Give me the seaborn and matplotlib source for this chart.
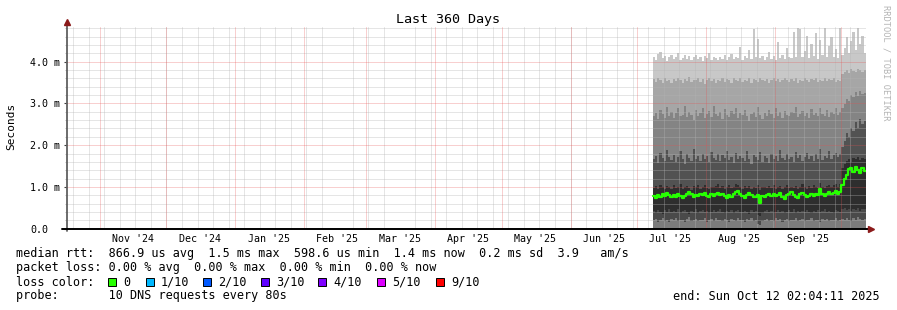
import numpy as np
import pandas as pd
import matplotlib
matplotlib.use("Agg")
import matplotlib.pyplot as plt
import matplotlib.dates as mdates
from matplotlib.ticker import FixedLocator, MultipleLocator
from matplotlib.patches import Rectangle
import seaborn as sns

# ---------------- data (values in milliseconds, one value per day from 2025-07-08) ----------------
start_day = "2025-07-08"
window_start = "2024-10-17 02:04:11"
window_end = "2025-10-12 02:04:11"

median_rtt = [
    0.78, 0.74, 0.80, 0.77, 0.84, 0.79, 0.86, 0.81, 0.75, 0.80,
    0.77, 0.83, 0.79, 0.74, 0.78, 0.84, 0.88, 0.82, 0.76, 0.81,
    0.78, 0.84, 0.80, 0.86, 0.79, 0.75, 0.82, 0.78, 0.84, 0.86,
    0.80, 0.83, 0.78, 0.74, 0.80, 0.76, 0.82, 0.88, 0.90, 0.84,
    0.79, 0.74, 0.81, 0.86, 0.80, 0.77, 0.76, 0.80, 0.62, 0.79,
    0.75, 0.80, 0.84, 0.79, 0.83, 0.78, 0.81, 0.86, 0.76, 0.72,
    0.80, 0.84, 0.88, 0.81, 0.77, 0.74, 0.82, 0.86, 0.80, 0.76,
    0.79, 0.83, 0.78, 0.84, 0.80, 0.95, 0.84, 0.79, 0.82, 0.87,
    0.82, 0.86, 0.90, 0.84, 0.88,
    1.05, 1.18, 1.28, 1.42, 1.46, 1.36, 1.48, 1.40, 1.34, 1.45, 1.38,
]

smoke_b1 = [
    0.20, 0.24, 0.17, 0.22, 0.26, 0.19, 0.21, 0.15, 0.23, 0.20,
    0.25, 0.18, 0.22, 0.20, 0.16, 0.23, 0.27, 0.19, 0.21, 0.24,
    0.18, 0.22, 0.20, 0.25, 0.17, 0.21, 0.23, 0.19, 0.26, 0.20,
    0.22, 0.18, 0.24, 0.20, 0.16, 0.23, 0.21, 0.19, 0.25, 0.22,
    0.20, 0.17, 0.23, 0.21, 0.26, 0.19, 0.22, 0.12, 0.10, 0.18,
    0.21, 0.24, 0.19, 0.22, 0.18, 0.25, 0.20, 0.23, 0.17, 0.21,
    0.24, 0.19, 0.22, 0.20, 0.26, 0.18, 0.21, 0.23, 0.19, 0.22,
    0.20, 0.25, 0.18, 0.22, 0.21, 0.17, 0.24, 0.20, 0.23, 0.19,
    0.22, 0.20, 0.25, 0.18, 0.21,
    0.24, 0.20, 0.26, 0.22, 0.19, 0.25, 0.21, 0.27, 0.23, 0.20, 0.24,
]

smoke_b2 = [
    0.42, 0.38, 0.45, 0.40, 0.36, 0.44, 0.41, 0.47, 0.39, 0.43,
    0.40, 0.46, 0.37, 0.42, 0.44, 0.39, 0.35, 0.43, 0.41, 0.46,
    0.38, 0.42, 0.45, 0.40, 0.43, 0.37, 0.41, 0.44, 0.39, 0.42,
    0.46, 0.40, 0.38, 0.43, 0.41, 0.45, 0.37, 0.42, 0.44, 0.40,
    0.39, 0.43, 0.41, 0.36, 0.44, 0.40, 0.42, 0.33, 0.30, 0.38,
    0.42, 0.45, 0.40, 0.43, 0.38, 0.41, 0.44, 0.39, 0.42, 0.37,
    0.41, 0.44, 0.40, 0.46, 0.38, 0.42, 0.39, 0.43, 0.41, 0.45,
    0.40, 0.37, 0.43, 0.41, 0.44, 0.39, 0.42, 0.46, 0.40, 0.43,
    0.41, 0.38, 0.44, 0.42, 0.40,
    0.46, 0.50, 0.44, 0.48, 0.42, 0.47, 0.45, 0.50, 0.43, 0.48, 0.46,
]

smoke_b3 = [
    0.98, 1.02, 0.95, 1.05, 0.99, 0.94, 1.03, 1.00, 0.96, 1.04,
    0.97, 1.01, 1.06, 0.95, 0.99, 1.03, 0.98, 0.93, 1.02, 1.00,
    1.04, 0.96, 1.00, 1.05, 0.97, 0.94, 1.01, 0.99, 1.03, 1.08,
    0.98, 1.02, 0.95, 1.00, 1.04, 0.97, 1.01, 1.06, 1.05, 0.99,
    0.96, 1.03, 0.98, 1.02, 0.95, 1.00, 0.97, 1.04, 0.92, 0.99,
    1.01, 0.97, 1.03, 0.98, 1.05, 0.96, 1.00, 1.02, 0.95, 0.99,
    1.04, 0.98, 1.01, 0.97, 1.03, 0.95, 1.00, 1.06, 0.99, 0.96,
    1.02, 0.98, 1.04, 1.00, 0.97, 1.10, 1.01, 0.98, 1.03, 1.05,
    0.99, 1.04, 1.07, 1.01, 1.06,
    1.45, 1.55, 1.62, 1.68, 1.60, 1.70, 1.66, 1.72, 1.64, 1.69, 1.67,
]

smoke_b4 = [
    1.66, 1.74, 1.58, 1.82, 1.69, 1.62, 1.88, 1.71, 1.64, 1.77,
    1.60, 1.72, 1.85, 1.67, 1.56, 1.79, 1.70, 1.63, 1.90, 1.68,
    1.75, 1.61, 1.80, 1.66, 1.73, 1.59, 1.84, 1.70, 1.65, 1.78,
    1.62, 1.76, 1.69, 1.87, 1.64, 1.71, 1.58, 1.81, 1.67, 1.74,
    1.70, 1.63, 1.86, 1.68, 1.55, 1.77, 1.72, 1.65, 1.83, 1.60,
    1.73, 1.69, 1.57, 1.80, 1.66, 1.75, 1.62, 1.89, 1.70, 1.64,
    1.78, 1.67, 1.72, 1.59, 1.84, 1.69, 1.76, 1.63, 1.71, 1.82,
    1.66, 1.74, 1.61, 1.79, 1.68, 1.92, 1.65, 1.73, 1.70, 1.85,
    1.67, 1.76, 1.81, 1.72, 1.78,
    1.95, 2.10, 2.28, 2.20, 2.40, 2.35, 2.55, 2.42, 2.62, 2.50, 2.58,
]

smoke_b5 = [
    2.70, 2.78, 2.62, 2.85, 2.74, 2.66, 2.92, 2.71, 2.80, 2.64,
    2.76, 2.88, 2.69, 2.73, 2.95, 2.67, 2.79, 2.72, 2.60, 2.84,
    2.71, 2.77, 2.90, 2.65, 2.74, 2.82, 2.68, 2.93, 2.75, 2.70,
    2.79, 2.63, 2.86, 2.72, 2.68, 2.81, 2.74, 2.89, 2.66, 2.77,
    2.73, 2.84, 2.69, 2.58, 2.75, 2.80, 2.67, 2.91, 2.72, 2.62,
    2.78, 2.70, 2.85, 2.74, 2.66, 2.88, 2.71, 2.79, 2.64, 2.83,
    2.73, 2.69, 2.80, 2.76, 2.92, 2.68, 2.74, 2.82, 2.70, 2.78,
    2.65, 2.86, 2.73, 2.77, 2.69, 2.90, 2.75, 2.71, 2.84, 2.67,
    2.79, 2.74, 2.88, 2.72, 2.80,
    2.90, 2.98, 3.10, 3.05, 3.20, 3.15, 3.28, 3.18, 3.30, 3.22, 3.25,
]

smoke_b6 = [
    3.58, 3.52, 3.60, 3.55, 3.49, 3.62, 3.54, 3.57, 3.50, 3.59,
    3.53, 3.61, 3.56, 3.48, 3.58, 3.54, 3.63, 3.51, 3.57, 3.55,
    3.60, 3.52, 3.58, 3.47, 3.56, 3.62, 3.53, 3.59, 3.50, 3.57,
    3.54, 3.61, 3.52, 3.58, 3.55, 3.49, 3.60, 3.56, 3.53, 3.62,
    3.51, 3.57, 3.54, 3.60, 3.48, 3.58, 3.55, 3.52, 3.61, 3.56,
    3.53, 3.59, 3.50, 3.57, 3.62, 3.54, 3.58, 3.51, 3.56, 3.60,
    3.55, 3.52, 3.59, 3.54, 3.61, 3.50, 3.57, 3.53, 3.60, 3.56,
    3.52, 3.58, 3.55, 3.62, 3.51, 3.57, 3.54, 3.60, 3.53, 3.58,
    3.55, 3.61, 3.52, 3.57, 3.54,
    3.70, 3.76, 3.80, 3.74, 3.82, 3.78, 3.75, 3.83, 3.79, 3.76, 3.81,
]

smoke_b7 = [
    4.12, 4.05, 4.18, 4.22, 4.08, 4.14, 4.02, 4.10, 4.16, 4.06,
    4.12, 4.20, 4.04, 4.09, 4.15, 4.07, 4.13, 4.03, 4.11, 4.17,
    4.06, 4.10, 4.02, 4.14, 4.08, 4.21, 4.05, 4.12, 4.09, 4.04,
    4.11, 4.07, 4.15, 4.03, 4.10, 4.18, 4.06, 4.12, 4.08, 4.35,
    4.05, 4.13, 4.09, 4.28, 4.06, 4.78, 4.12, 4.55, 4.08, 4.14,
    4.04, 4.10, 4.22, 4.07, 4.13, 4.05, 4.48, 4.09, 4.16, 4.06,
    4.32, 4.11, 4.08, 4.70, 4.12, 4.80, 4.78, 4.10, 4.25, 4.62,
    4.09, 4.42, 4.13, 4.68, 4.07, 4.52, 4.15, 4.80, 4.10, 4.38,
    4.60, 4.12, 4.30, 4.08, 4.80,
    4.15, 4.32, 4.58, 4.20, 4.50, 4.72, 4.28, 4.80, 4.42, 4.62, 4.20,
]

band_colors = ["#7c7c7c", "#4a4a4a", "#2e2e2e", "#525252", "#848484", "#a6a6a6", "#c8c8c8"]

y_tick_values = [0, 1, 2, 3, 4]
y_tick_labels = ["0.0", "1.0 m", "2.0 m", "3.0 m", "4.0 m"]
month_labels = ["Nov '24", "Dec '24", "Jan '25", "Feb '25", "Mar '25", "Apr '25",
                "May '25", "Jun '25", "Jul '25", "Aug '25", "Sep '25"]

loss_labels = ["0", "1/10", "2/10", "3/10", "4/10", "5/10", "9/10"]
loss_colors = ["#26ff00", "#00b8ff", "#0059ff", "#5e00ff", "#7e00ff", "#dd00ff", "#ff0000"]

# ---------------- figure ----------------
sns.set_theme(style="white")
plt.rcParams["font.family"] = ["DejaVu Sans Mono", "DejaVu Sans"]

W, H = 897, 310
fig = plt.figure(figsize=(W / 100, H / 100), dpi=100)
fig.patch.set_facecolor("white")

def fx(px):
    return px / W

def fy(py):
    return 1 - py / H

ax_left, ax_right, ax_top, ax_bot = 66.7, 866.0, 27.0, 228.7
ax = fig.add_axes([fx(ax_left), fy(ax_bot), (ax_right - ax_left) / W, (ax_bot - ax_top) / H])
ax.set_facecolor("white")

t0 = pd.Timestamp(window_start)
t1 = pd.Timestamp(window_end)
days = pd.date_range(start_day, periods=len(median_rtt), freq="D")
edges = list(days) + [t1]

def ext(v):
    return np.append(np.asarray(v, dtype=float), v[-1])

bounds = [np.zeros(len(edges)), ext(smoke_b1), ext(smoke_b2), ext(smoke_b3),
          ext(smoke_b4), ext(smoke_b5), ext(smoke_b6), ext(smoke_b7)]
for i, c in enumerate(band_colors):
    ax.fill_between(edges, bounds[i], bounds[i + 1], step="post", color=c,
                    linewidth=0, antialiased=False, zorder=1)

df = pd.DataFrame({"t": edges, "rtt": ext(median_rtt)})
sns.lineplot(data=df, x="t", y="rtt", ax=ax, color="#26ff00", linewidth=1.6,
             drawstyle="steps-post", estimator=None, zorder=4)

ax.set_xlim(t0, t1)
ax.set_ylim(0, 4.83)
ax.set_xlabel("")
ax.set_ylabel("")

# grid: rrdtool draws 1px dotted lines above the data; a half-transparent
# hairline gives the same average tone
ax.set_axisbelow(False)
ax.yaxis.set_major_locator(FixedLocator(y_tick_values))
ax.yaxis.set_minor_locator(MultipleLocator(0.2))
ax.set_yticklabels(y_tick_labels)
grid_gray = dict(color="#b4b4b4", alpha=0.34, linewidth=0.72, linestyle="-")
grid_red = dict(color="#e85050", alpha=0.27, linewidth=0.72, linestyle="-")
ax.grid(True, which="minor", axis="y", **grid_gray)
ax.grid(True, which="major", axis="y", **grid_red)

month_starts = pd.date_range("2024-11-01", "2025-10-01", freq="MS")
mid_months = month_starts[:len(month_labels)] + pd.Timedelta(days=15)
ax.xaxis.set_major_locator(FixedLocator(mdates.date2num(mid_months)))
ax.set_xticklabels(month_labels)
ax.xaxis.set_minor_locator(mdates.WeekdayLocator(byweekday=mdates.SU))
ax.grid(True, which="minor", axis="x", **grid_gray)
ax.grid(False, which="major", axis="x")
for m in month_starts:
    ax.axvline(m, zorder=2.6, **grid_red)

ax.tick_params(axis="x", which="major", length=0, pad=3.5, labelsize=7.2, colors="black")
ax.tick_params(axis="x", which="minor", length=1.5, width=0.6, color="#a0a0a0", direction="out")
ax.tick_params(axis="y", which="major", length=2.2, width=0.8, color="#404040", direction="out",
               pad=24.2, labelsize=7.2, labelcolor="black", left=True)
ax.tick_params(axis="y", which="minor", length=1.5, width=0.6, color="#b0b0b0", direction="out",
               left=True)
for lab in ax.get_yticklabels():
    lab.set_horizontalalignment("left")

for s in ax.spines.values():
    s.set_visible(False)

# axis lines with arrows
ax.plot([0, 0], [-0.01, 1.02], transform=ax.transAxes, color="#606060", lw=1.3, clip_on=False, zorder=5)
ax.plot([-0.006, 1.004], [0, 0], transform=ax.transAxes, color="black", lw=1.4, clip_on=False, zorder=5)
ax.plot([0], [1.025], transform=ax.transAxes, marker="^", color="#8b1a1a", markersize=4.5,
        clip_on=False, zorder=6)
ax.plot([1.006], [0], transform=ax.transAxes, marker=">", color="#8b1a1a", markersize=4.5,
        clip_on=False, zorder=6)

# texts
fig.text(fx(448), fy(19), "Last 360 Days", ha="center", va="center", fontsize=9.6, color="black")
fig.text(fx(11), fy(126), "Seconds", rotation=90, ha="center", va="center", fontsize=8, color="black")
fig.text(fx(886), fy(5), "RRDTOOL / TOBI OETIKER", rotation=-90, ha="center", va="top",
         fontsize=6.2, color="#b4b4b4")

fs = 8.5
fig.text(fx(16), fy(254), "median rtt:  866.9 us avg  1.5 ms max  598.6 us min  1.4 ms now  0.2 ms sd  3.9   am/s",
         ha="left", va="center", fontsize=fs, color="black")
fig.text(fx(16), fy(268), "packet loss: 0.00 % avg  0.00 % max  0.00 % min  0.00 % now",
         ha="left", va="center", fontsize=fs, color="black")
fig.text(fx(16), fy(282), "loss color:", ha="left", va="center", fontsize=fs, color="black")
sq_x = [108, 146, 203, 261, 318, 377, 436]
for x0, lab, col in zip(sq_x, loss_labels, loss_colors):
    fig.patches.append(Rectangle((fx(x0), fy(286)), 8 / W, 8 / H, transform=fig.transFigure,
                                 facecolor=col, edgecolor="black", linewidth=0.7))
    fig.text(fx(x0 + 15), fy(282), lab, ha="left", va="center", fontsize=fs, color="black")
fig.text(fx(16), fy(296), "probe:       10 DNS requests every 80s", ha="left", va="center",
         fontsize=fs, color="black")
fig.text(fx(880), fy(296), "end: Sun Oct 12 02:04:11 2025", ha="right", va="center",
         fontsize=fs, color="black")

fig.savefig("out.png", dpi=100, facecolor="white")
